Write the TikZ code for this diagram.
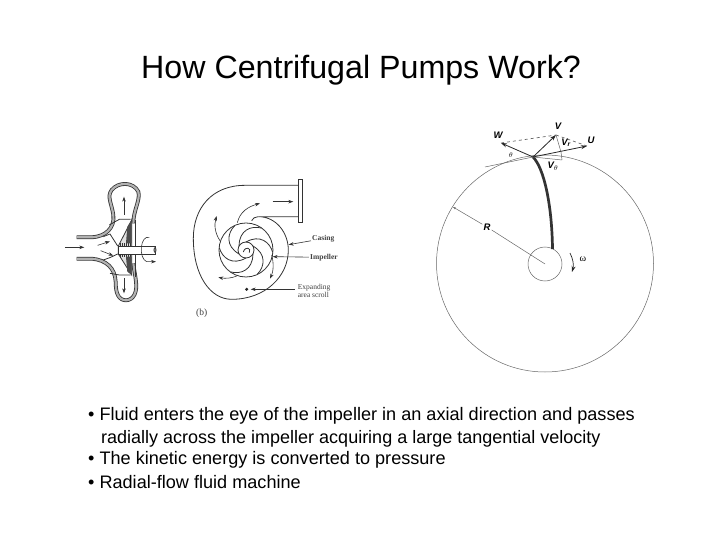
\documentclass[tikz,border=0pt]{standalone}
\usepackage{fontspec}
\setmainfont{Liberation Sans}
\newfontfamily\capfont{Liberation Serif}
\usepackage{tikz}
\usetikzlibrary{arrows.meta}
\tikzset{
  vecline/.style={draw=black!85,line width=0.8pt,-{Stealth[length=6pt,width=4pt]}},
  thinline/.style={draw=black!60,line width=0.5pt},
  flowline/.style={draw=black!80,line width=0.6pt,-{Stealth[length=5pt,width=3.5pt]}},
  shellwall/.style={draw=black!80,double=black!30,double distance=2.2pt,line width=0.8pt},
  partline/.style={draw=black!80,line width=0.8pt},
  veclabel/.style={font=\bfseries\itshape\fontsize{9.5}{11}\selectfont,inner sep=1pt},
  partlabel/.style={font=\capfont\bfseries\fontsize{7.5}{8.5}\selectfont,text=black!75,inner sep=1pt,align=left}
}
\begin{document}
\begin{tikzpicture}[x=1pt,y=-1pt]
        \useasboundingbox (0,0) rectangle (720,540);

        % Title
        \node (title) at (361,70) {\fontsize{32.2}{36}\selectfont How Centrifugal Pumps Work?};

        % Side view of the pump
        \begin{scope}[shift={(50,160)},x=0.3333pt,y=-0.3333pt]
        \draw[shellwall] (80,232) -- (125,232) .. controls (165,230) and (195,205) .. (190,165)
            .. controls (185,130) and (170,110) .. (185,90) .. controls (205,65) and (250,65) .. (265,95)
            .. controls (272,120) and (250,150) .. (250,190);
        \draw[shellwall] (80,296) -- (125,296) .. controls (170,300) and (195,325) .. (197,365)
            .. controls (197,400) and (205,420) .. (228,421) .. controls (252,420) and (262,395) .. (258,365)
            .. controls (256,345) and (252,330) .. (250,310);
        \draw[partline] (257,180) -- (257,350);
        % impeller
        \draw[partline] (178,195) -- (208,178) -- (242,178);
        \draw[partline] (180,340) -- (208,345) -- (242,345);
        \draw[partline] (160,230) -- (180,222) -- (203,258);
        \draw[partline] (160,300) -- (182,292) -- (203,282);
        \draw[partline,fill=black!12] (205,258) -- (245,180) -- (245,345) -- (205,282) -- cycle;
        \foreach \hx in {210,216,...,244}
          \draw[partline,line width=0.4pt] (\hx,250) -- (\hx,290);
        \fill[black!70] (232,200) -- (245,180) -- (245,250) -- (228,250) -- cycle;
        \fill[black!70] (232,335) -- (245,345) -- (245,290) -- (228,290) -- cycle;
        % shaft
        \draw[partline,fill=white] (205,258) rectangle (315,282);
        \draw[partline,fill=black!35] (315,270) ellipse (3 and 7);
        % arrows
        \draw[flowline] (45,262) -- (103,262);
        \draw[flowline] (222,165) -- (222,110);
        \draw[flowline] (222,355) -- (222,400);
        \draw[flowline] (143,256) -- (180,244);
        \draw[flowline] (152,272) -- (190,287);
        \draw[flowline] (298,232) .. controls (270,225) and (265,295) .. (290,305) -- (318,305);
        \end{scope}

        % Front view of the pump
        \begin{scope}[shift={(180,170)},x=0.3333pt,y=-0.3333pt]
        \coordinate (hubmid) at (198,240);
        \draw[partline] (355,46) -- (195,46) .. controls (95,46) and (40,115) .. (40,205)
            .. controls (40,315) and (90,388) .. (155,388) .. controls (255,388) and (325,320) .. (325,240)
            .. controls (325,190) and (290,140) .. (235,140) -- (355,140);
        \draw[partline] (235,140) .. controls (225,140) and (218,145) .. (215,152);
        \draw[partline] (355,28) rectangle (366,158);
        \draw[partline] (hubmid) circle (81);
        \draw[partline] (hubmid) circle (24);
        \draw[partline] (190,246) .. controls (196,227) and (215,234) .. (208,248);
        % vanes
        \foreach \ang in {0,60,120,180,240,300}
          \draw[partline,rotate around={\ang:(hubmid)}] (198,216) .. controls (240,192) and (270,217) .. (278,247);
        % arrows
        \draw[flowline] (172,158) .. controls (180,125) and (205,110) .. (240,100);
        \draw[flowline] (120,212) .. controls (105,190) and (102,165) .. (110,138);
        \draw[flowline] (170,318) .. controls (155,325) and (135,326) .. (115,322);
        \draw[flowline] (275,255) .. controls (282,280) and (280,305) .. (270,326);
        \draw[flowline] (278,95) -- (340,95);
        % labels
        \node[partlabel,anchor=west] (casing) at (393,206) {Casing};
        \node[partlabel,anchor=west] (impeller) at (387,262) {Impeller};
        \node[partlabel,anchor=west,font=\capfont\fontsize{7.5}{8.5}\selectfont] (scroll) at (350,363) {Expanding\\area scroll};
        \node[partlabel,anchor=west,font=\capfont\fontsize{9.5}{11}\selectfont] (b) at (45,430) {(b)};
        \coordinate (casingend) at (326,224);
        \coordinate (impellerend) at (278,260);
        \coordinate (scrollstart) at (345,358);
        \coordinate (scrollend) at (212,358);
        \coordinate (dotend) at (200,358);
        \draw[flowline] (casing) -- (casingend);
        \draw[flowline] (impeller) -- (impellerend);
        \draw[flowline] (scrollstart) -- (scrollend);
        \fill[black!85] (dotend) circle (5);
        \end{scope}

        % Rotor circles
        \node[circle,thinline,minimum size=217pt,inner sep=0pt] (rotor) at (545,263.5) {};
        \node[circle,thinline,minimum size=34pt,inner sep=0pt] (hub) at (545,264) {};
        \coordinate (hubcenter) at (545,264);
        \coordinate (rimpoint) at (453,207);

        % Radius and rotation
        \node[veclabel] (R) at (487,227) {R};
        \draw[thinline,{Stealth[length=3pt,width=2pt]}-] (rimpoint) -- (R);
        \draw[thinline] (R) -- (hubcenter);
        \node[inner sep=1pt,font=\capfont\fontsize{10}{12}\selectfont] (omega) at (583,259.5) {ω};
        \coordinate (omstart) at (570,253);
        \coordinate (omend) at (572,272);
        \draw[vecline,line width=0.7pt] (omstart) .. controls (573,259) and (574,265) .. (omend);

        % Blade
        \draw[black!80,line width=2.7pt] (533,157) .. controls (544,168) and (552,205) .. (552.5,249);

        % Velocity triangle
        \coordinate (origin) at (533,157);
        \coordinate (tipV) at (556,135);
        \coordinate (tipW) at (501,143);
        \coordinate (tipU) at (587,146);
        \coordinate (footR) at (561,152);
        \coordinate (footT) at (562,160);
        \coordinate (tanleft) at (485,167);
        \draw[vecline] (origin) -- (tipV);
        \draw[vecline] (origin) -- (tipW);
        \draw[vecline] (origin) -- (tipU);
        \draw[thinline,line width=0.7pt,dashed] (tipV) -- (tipU);
        \draw[thinline,line width=0.7pt,dashed] (tipW) -- (tipV);
        \draw[thinline] (tipV) -- (footR);
        \draw[thinline] (footR) -- (footT);
        \draw[thinline] (origin) -- (footT);
        \draw[thinline] (tanleft) -- (origin);
        \node[veclabel] (labV) at (558,126) {V};
        \node[veclabel] (labW) at (498,135) {W};
        \node[veclabel] (labU) at (591,140) {U};
        \node[veclabel] (labVr) at (566,143) {V\textsubscript{r}};
        \node[veclabel] (labVt) at (553,166) {V\textsubscript{$\theta$}};
        \node[inner sep=0pt,font=\scriptsize] (labT) at (511,155) {$\theta$};

        % Bullet list
        \node[anchor=west,inner sep=0pt] (lineA) at (88,416) {\fontsize{18.1}{22}\selectfont • Fluid enters the eye of the impeller in an axial direction and passes};
        \node[anchor=west,inner sep=0pt] (lineB) at (101,439) {\fontsize{18}{22}\selectfont radially across the impeller acquiring a large tangential velocity};
        \node[anchor=west,inner sep=0pt] (lineC) at (88,460) {\fontsize{18.1}{22}\selectfont • The kinetic energy is converted to pressure};
        \node[anchor=west,inner sep=0pt] (lineD) at (88,482) {\fontsize{18.1}{22}\selectfont • Radial-flow fluid machine};

    \end{tikzpicture}
\end{document}
